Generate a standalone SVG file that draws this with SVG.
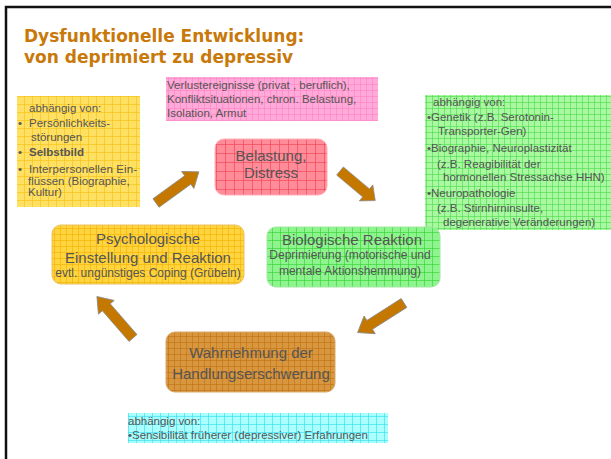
<svg xmlns="http://www.w3.org/2000/svg" xmlns:xlink="http://www.w3.org/1999/xlink" width="611" height="459" viewBox="0 0 611 459">
<style>
.t{font-family:"Liberation Sans",Arial,sans-serif;fill:#555;}
.m{font-size:15px;text-anchor:middle;}
.s{font-size:12px;text-anchor:middle;}
.i{font-size:11.5px;}
.title{font-family:"DejaVu Sans",Verdana,sans-serif;font-weight:bold;font-size:17px;fill:#C8790A;}
.arr{fill:#C47800;stroke:#8c8c8c;stroke-width:0.8;}
.g{stroke-width:1;stroke-opacity:0.6;}
</style>
<defs>
<pattern id="pRed" width="9" height="9" patternUnits="userSpaceOnUse"><rect width="9" height="9" fill="#FF8C98"/><path class="g" d="M0 0.5H9M0.5 0V9" stroke="#F04050"/></pattern>
<pattern id="pYel" width="6" height="6" patternUnits="userSpaceOnUse"><rect width="6" height="6" fill="#FFD43E"/><path class="g" d="M0 0.5H6M0.5 0V6" stroke="#F2B000"/></pattern>
<pattern id="pYelI" width="8" height="8" patternUnits="userSpaceOnUse"><rect width="8" height="8" fill="#FFE062"/><path class="g" d="M0 0.5H8M0.5 0V8" stroke="#F5C010"/></pattern>
<pattern id="pGrn" width="8" height="8" patternUnits="userSpaceOnUse"><rect width="8" height="8" fill="#8EF58E"/><path class="g" d="M0 0.5H8M0.5 0V8" stroke="#30D030"/></pattern>
<pattern id="pGrnI" width="6" height="6" patternUnits="userSpaceOnUse"><rect width="6" height="6" fill="#AAF8A2"/><path class="g" d="M0 0.5H6M0.5 0V6" stroke="#48DC48"/></pattern>
<pattern id="pPink" width="6" height="6" patternUnits="userSpaceOnUse"><rect width="6" height="6" fill="#FFAAD8"/><path class="g" d="M0 0.5H6M0.5 0V6" stroke="#FF80C4"/></pattern>
<pattern id="pCyan" width="8" height="8" patternUnits="userSpaceOnUse"><rect width="8" height="8" fill="#AAFFFF"/><path class="g" d="M0 0.5H8M0.5 0V8" stroke="#30DCF0"/></pattern>
<pattern id="pBrn" width="6" height="6" patternUnits="userSpaceOnUse"><rect width="6" height="6" fill="#D8963E"/><path class="g" d="M0 0.5H6M0.5 0V6" stroke="#C07010"/></pattern>
<path id="arrow" d="M0 -5.5H37V-11L50 0L37 11V5.5H0Z"/>
</defs>
<rect width="611" height="459" fill="#fff"/>
<rect x="6" y="7" width="620" height="470" fill="none" stroke="#111" stroke-width="2.5"/>
<g id="title">
<text class="title" x="24" y="42">Dysfunktionelle Entwicklung:</text>
<text class="title" x="24" y="62.5">von deprimiert zu depressiv</text>
</g>
<g id="info-belastung">
<rect x="166" y="77" width="212" height="44" fill="url(#pPink)"/>
<text class="t i" x="167" y="89">Verlustereignisse (privat , beruflich),</text>
<text class="t i" x="167" y="103">Konfliktsituationen, chron. Belastung,</text>
<text class="t i" x="167" y="116.5">Isolation, Armut</text>
</g>
<g id="info-psycho">
<rect x="17" y="96" width="123" height="111" fill="url(#pYelI)"/>
<text class="t i" x="29" y="111.5">abhängig von:</text>
<text class="t i" x="18" y="126.5">•</text><text class="t i" x="29" y="126.5">Persönlichkeits-</text>
<text class="t i" x="31" y="141">störungen</text>
<text class="t i" x="18" y="155.5">•</text><text class="t i" x="29" y="155.5" font-weight="bold">Selbstbild</text>
<text class="t i" x="18" y="172.5">•</text><text class="t i" x="29" y="172.5" textLength="108" lengthAdjust="spacing">Interpersonellen Ein-</text>
<text class="t i" x="28" y="184.5">flüssen (Biographie,</text>
<text class="t i" x="28" y="196">Kultur)</text>
</g>
<g id="info-bio">
<rect x="425" y="95" width="186" height="135" fill="url(#pGrnI)"/>
<text class="t i" x="433" y="106">abhängig von:</text>
<text class="t i" x="427" y="121">•Genetik (z.B. Serotonin-</text>
<text class="t i" x="438" y="135">Transporter-Gen)</text>
<text class="t i" x="427" y="152">•Biographie, Neuroplastizität</text>
<text class="t i" x="437" y="168">(z.B. Reagibilität der</text>
<text class="t i" x="443" y="181">hormonellen Stressachse HHN)</text>
<text class="t i" x="427" y="197">•Neuropathologie</text>
<text class="t i" x="437" y="212">(z.B. Stirnhirninsulte,</text>
<text class="t i" x="443" y="226">degenerative Veränderungen)</text>
</g>
<g id="info-wahrnehmung">
<rect x="128" y="413" width="260" height="30" fill="url(#pCyan)"/>
<text class="t i" x="128" y="425">abhängig von:</text>
<text class="t i" x="128" y="439">•Sensibilität früherer (depressiver) Erfahrungen</text>
</g>
<g id="node-belastung">
<rect x="215" y="139" width="112" height="56" rx="9" fill="url(#pRed)" stroke="#FFB0B8" stroke-width="1"/>
<text class="t m" x="271" y="160.5">Belastung,</text>
<text class="t m" x="271" y="178">Distress</text>
</g>
<g id="node-psycho">
<rect x="52" y="225" width="192" height="59" rx="9" fill="url(#pYel)" stroke="#E8C060" stroke-width="1"/>
<text class="t m" x="148" y="244">Psychologische</text>
<text class="t m" x="148" y="262.5">Einstellung und Reaktion</text>
<text class="t s" x="148" y="276.5">evtl. ungünstiges Coping (Grübeln)</text>
</g>
<g id="node-bio">
<rect x="267" y="227" width="173" height="60" rx="9" fill="url(#pGrn)" stroke="#A0E8A0" stroke-width="1"/>
<text class="t m" x="352" y="245">Biologische Reaktion</text>
<text class="t s" x="350" y="259">Deprimierung (motorische und</text>
<text class="t s" x="350" y="275">mentale Aktionshemmung)</text>
</g>
<g id="node-wahrnehmung">
<rect x="166" y="332" width="169" height="60" rx="9" fill="url(#pBrn)" stroke="#D8A868" stroke-width="1"/>
<text class="t m" x="251" y="358.3">Wahrnehmung der</text>
<text class="t m" x="251" y="379">Handlungserschwerung</text>
</g>
<g id="connectors">
<use xlink:href="#arrow" class="arr" transform="translate(156,203) rotate(-36) scale(1.06,0.95)"/>
<use xlink:href="#arrow" class="arr" transform="translate(340,171) rotate(40) scale(0.92,0.95)"/>
<use xlink:href="#arrow" class="arr" transform="translate(404,303) rotate(147.5) scale(1.1,0.95)"/>
<use xlink:href="#arrow" class="arr" transform="translate(133,338) rotate(-131) scale(1.1,0.95)"/>
</g>
</svg>
